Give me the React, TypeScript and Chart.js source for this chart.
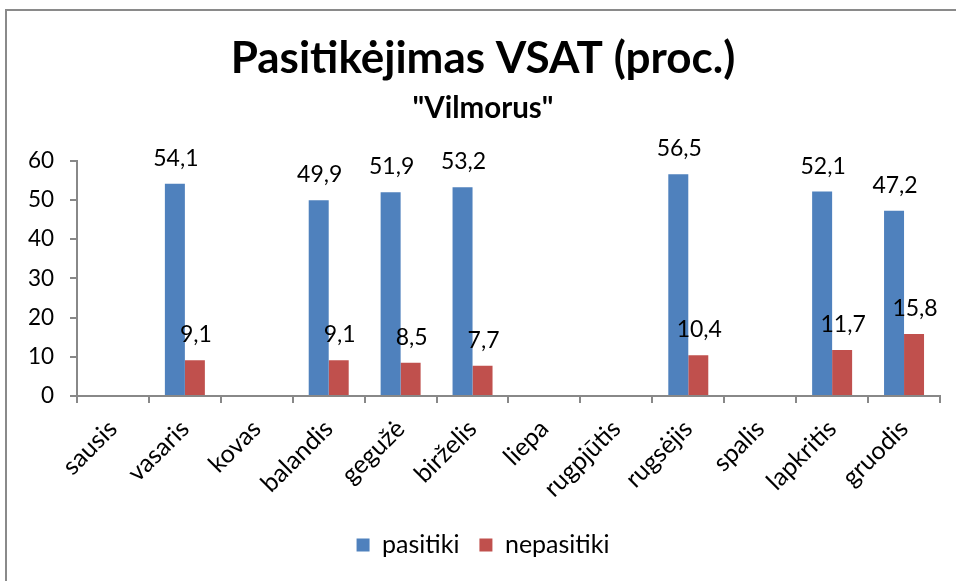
import React, { useEffect, useRef } from "react";
import { Chart, registerables } from "chart.js";

Chart.register(...registerables);

const FONT = "Lato, 'Noto Sans', sans-serif";

const months = [
  "sausis",
  "vasaris",
  "kovas",
  "balandis",
  "gegužė",
  "birželis",
  "liepa",
  "rugpjūtis",
  "rugsėjis",
  "spalis",
  "lapkritis",
  "gruodis",
];
const trustValues = [null, 54.1, null, 49.9, 51.9, 53.2, null, null, 56.5, null, 52.1, 47.2];
const distrustValues = [null, 9.1, null, 9.1, 8.5, 7.7, null, null, 10.4, null, 11.7, 15.8];
const seriesNames = ["pasitiki", "nepasitiki"];
const seriesColors = ["#4F81BD", "#C0504D"];
const titleText = "Pasitikėjimas VSAT (proc.)";
const subtitleText = '"Vilmorus"';
const yMin = 0;
const yMax = 60;
const yStep = 10;

const AXIS_COLOR = "#888888";

const valueLabels = {
  id: "valueLabels",
  afterDatasetsDraw(chart: any) {
    const ctx = chart.ctx;
    ctx.save();
    ctx.font = `23px ${FONT}`;
    ctx.fillStyle = "#000";
    ctx.textAlign = "center";
    ctx.textBaseline = "alphabetic";
    chart.data.datasets.forEach((ds: any, i: number) => {
      const meta = chart.getDatasetMeta(i);
      meta.data.forEach((bar: any, j: number) => {
        const v = ds.data[j];
        if (v === null || v === undefined) return;
        ctx.fillText(Number(v).toFixed(1).replace(".", ","), bar.x + 1, bar.y - 18);
      });
    });
    ctx.restore();
  },
};

export default function App() {
  const ref = useRef<HTMLCanvasElement>(null);

  useEffect(() => {
    const canvas = ref.current;
    if (!canvas) return;
    const chart = new Chart(canvas, {
      type: "bar",
      data: {
        labels: months,
        datasets: [
          {
            label: seriesNames[0],
            data: trustValues,
            backgroundColor: seriesColors[0],
            borderWidth: 0,
            categoryPercentage: 0.556,
            barPercentage: 1,
          },
          {
            label: seriesNames[1],
            data: distrustValues,
            backgroundColor: seriesColors[1],
            borderWidth: 0,
            categoryPercentage: 0.556,
            barPercentage: 1,
          },
        ],
      },
      options: {
        responsive: false,
        animation: false,
        devicePixelRatio: 1,
        layout: { padding: { top: 10, left: 26, right: 16, bottom: 13.5 } },
        plugins: {
          title: {
            display: true,
            text: titleText,
            color: "#000",
            font: { family: FONT, size: 44, weight: "bold" },
            padding: { top: 22, bottom: 0 },
          },
          subtitle: {
            display: true,
            text: subtitleText,
            color: "#000",
            font: { family: FONT, size: 29.5, weight: "bold" },
            padding: { top: 6, bottom: 34.3 },
          },
          legend: {
            position: "bottom",
            labels: {
              color: "#000",
              font: { family: FONT, size: 25 },
              boxWidth: 13,
              boxHeight: 13,
              padding: 20,
            },
          },
          tooltip: { enabled: false },
        },
        scales: {
          x: {
            grid: {
              display: true,
              drawOnChartArea: false,
              drawTicks: true,
              tickLength: 7,
              color: AXIS_COLOR,
              lineWidth: 2,
              offset: true,
            },
            border: { display: true, color: AXIS_COLOR, width: 2 },
            ticks: {
              color: "#000",
              font: { family: FONT, size: 25 },
              maxRotation: 45,
              minRotation: 45,
              padding: 11,
              autoSkip: false,
            },
            afterFit(scale: any) {
              scale.height = 116.5;
            },
          },
          y: {
            min: yMin,
            max: yMax,
            grid: {
              display: true,
              drawOnChartArea: false,
              drawTicks: true,
              tickLength: 7,
              color: AXIS_COLOR,
              lineWidth: 2,
            },
            border: { display: true, color: AXIS_COLOR, width: 2 },
            ticks: {
              stepSize: yStep,
              color: "#000",
              font: { family: FONT, size: 22.5 },
              padding: 16,
            },
            afterFit(scale: any) {
              scale.width = 51;
            },
          },
        },
      },
      plugins: [valueLabels],
    } as any);
    return () => chart.destroy();
  }, []);

  return (
    <div
      style={{
        position: "fixed",
        left: 0,
        top: 0,
        width: 956,
        height: 581,
        overflow: "hidden",
        background: "#fff",
      }}
    >
      <div
        style={{
          position: "absolute",
          left: 5,
          top: 9,
          width: 1000,
          height: 700,
          border: "2px solid #8a8a8a",
          boxSizing: "border-box",
        }}
      />
      <canvas
        ref={ref}
        width={956}
        height={581}
        style={{ position: "absolute", left: 0, top: 0, width: 956, height: 581 }}
      />
    </div>
  );
}
